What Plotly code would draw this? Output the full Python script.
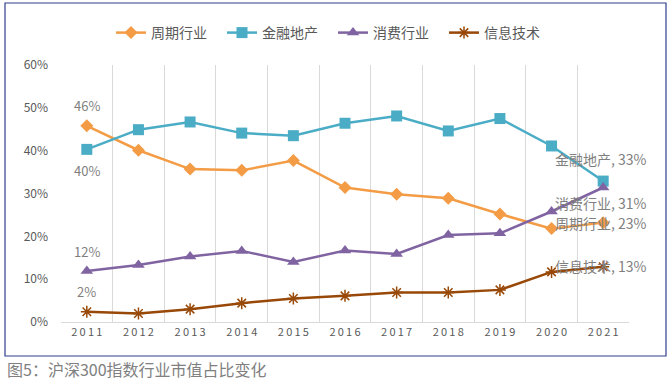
import plotly.graph_objects as go

years = ["2011", "2012", "2013", "2014", "2015", "2016", "2017", "2018", "2019", "2020", "2021"]
year_ticks = ["\u2009".join(y) for y in years]

cyclical = [45.8, 40.1, 35.7, 35.4, 37.7, 31.4, 29.8, 28.9, 25.2, 21.8, 23.2]
finance = [40.3, 44.9, 46.7, 44.1, 43.5, 46.4, 48.1, 44.6, 47.5, 41.1, 32.9]
consumer = [11.9, 13.3, 15.3, 16.6, 14.0, 16.7, 15.9, 20.3, 20.7, 25.8, 31.4]
infotech = [2.4, 2.0, 3.0, 4.4, 5.5, 6.1, 6.9, 6.9, 7.5, 11.7, 12.9]

y_ticks = [0, 10, 20, 30, 40, 50, 60]
y_tick_text = [f"{v}%" for v in y_ticks]

names = ["周期行业", "金融地产", "消费行业", "信息技术"]
caption = "图5：沪深300指数行业市值占比变化"

FONT = "Noto Sans CJK SC, Open Sans, sans-serif"
GRAY = "#7F7F7F"

series = [
    (names[0], cyclical, "#F39C45", "diamond", 10, dict(color="#F39C45", width=0)),
    (names[1], finance, "#4BACC6", "square", 11, dict(color="#4BACC6", width=0)),
    (names[2], consumer, "#8064A2", "triangle-up", 11, dict(color="#8064A2", width=0)),
    (names[3], infotech, "#984807", "asterisk-open", 10, dict(color="#984807", width=1.5)),
]

fig = go.Figure()
for name, vals, color, sym, size, mline in series:
    fig.add_trace(go.Scatter(
        x=years, y=vals, name=name, mode="lines+markers",
        line=dict(color=color, width=2.5),
        marker=dict(symbol=sym, size=size, color=color, line=mline),
    ))

first_i = 0
last_i = len(years) - 1
# first-year labels (order: cyclical, finance, consumer, infotech)
first_shift = [20, -21, 20, 20]
for (name, vals, *_), ys in zip(series, first_shift):
    fig.add_annotation(x=first_i, y=vals[0], xref="x", yref="y", text=f"{round(vals[0])}%",
                       showarrow=False, yshift=ys,
                       font=dict(family=FONT, size=13, color=GRAY),
                       xanchor="center", yanchor="middle")
# last-year labels (order: cyclical, finance, consumer, infotech)
last_shift = [0, 22, -15, 1]
for (name, vals, *_), ys in zip(series, last_shift):
    fig.add_annotation(x=last_i, y=vals[-1], xref="x", yref="y",
                       text=f"{name}, {round(vals[-1])}%", showarrow=False,
                       xshift=-50, yshift=ys, font=dict(family=FONT, size=14, color=GRAY),
                       xanchor="left", yanchor="middle")

# caption
fig.add_annotation(x=(5-61)/568, y=(322-369)/257, xref="paper", yref="paper", text=caption,
                   showarrow=False, xanchor="left", yanchor="middle",
                   font=dict(family=FONT, size=16, color="#808080"))

# border frame
fig.add_shape(type="rect", xref="paper", yref="paper",
              x0=(5-61)/568, x1=(666-61)/568, y0=(322-356)/257, y1=(322-3)/257,
              line=dict(color="#2F3E8C", width=1.2), fillcolor="rgba(0,0,0,0)")

fig.update_layout(
    width=668, height=380,
    margin=dict(l=61, r=39, t=65, b=58, autoexpand=False),
    paper_bgcolor="white", plot_bgcolor="white",
    font=dict(family=FONT, color="#595959"),
    showlegend=True,
    legend=dict(orientation="h", x=(111-61)/568, y=(322-33)/257, xanchor="left", yanchor="middle",
                font=dict(family=FONT, size=14, color="#595959"), itemwidth=30,
                entrywidth=66, entrywidthmode="pixels",
                bgcolor="rgba(0,0,0,0)", tracegroupgap=0),
    xaxis=dict(type="category", tickmode="array", tickvals=years, ticktext=year_ticks,
               tickson="boundaries", showgrid=True, gridcolor="#D9D9D9", gridwidth=1,
               showline=True, linecolor="#D9D9D9", linewidth=1, ticks="", zeroline=False,
               tickfont=dict(family=FONT, size=11, color="#595959"), range=[-0.5, 10.5]),
    yaxis=dict(range=[0, 60], tickvals=y_ticks, ticktext=y_tick_text, showgrid=False,
               zeroline=False, showline=False, ticks="", ticklabelstandoff=12,
               tickfont=dict(family=FONT, size=12, color="#595959")),
)

fig.write_html("out.html", config={"displayModeBar": False},
               post_script="document.body.style.margin='0';document.body.style.padding='0';")
